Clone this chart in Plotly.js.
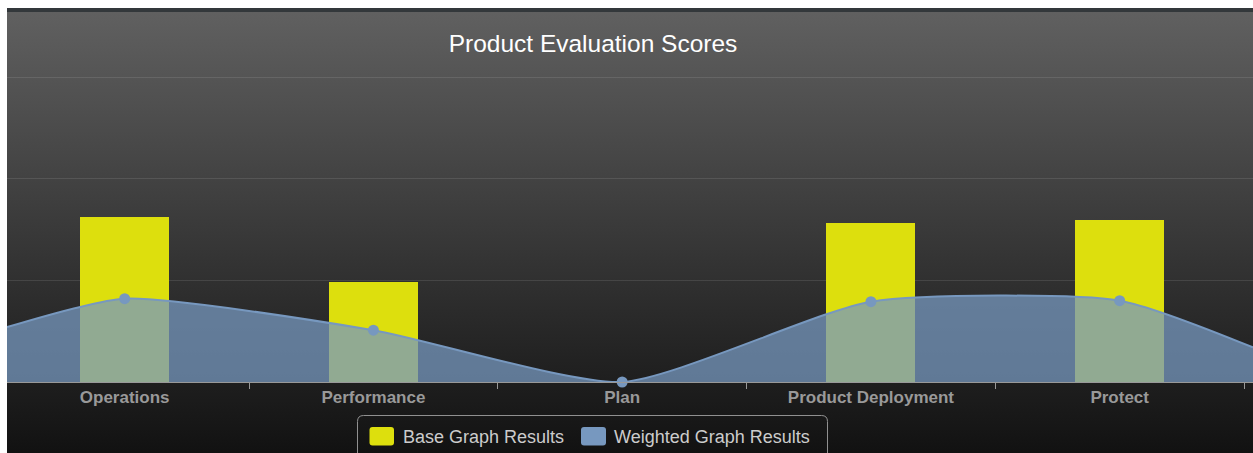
<!DOCTYPE html>
<html>
<head>
<meta charset="utf-8">
<script src="https://cdn.plot.ly/plotly-3.0.1.min.js"></script>
<style>
  html, body { margin: 0; padding: 0; background: #ffffff; width: 1253px; height: 453px; overflow: hidden; }
  #band { position: absolute; left: 7px; top: 8px; width: 1246px; height: 4px; background: #33383b; }
  #chart { position: absolute; left: 7px; top: 12px; width: 1246px; height: 441px;
           background: linear-gradient(to bottom, rgb(96,96,96) 0px, rgb(16,16,16) 450px); }
</style>
</head>
<body>
<div id="band"></div>
<div id="chart"></div>
<script>
// ---- data ----
const categories = ['Operations', 'Performance', 'Plan', 'Product Deployment', 'Protect'];
const baseScores = [16.2, 9.8, 0, 15.6, 15.9];
const weightedScores = [8.2, 5.1, 0, 7.9, 8.0];
// weighted curve values where it leaves the visible plot (left edge, right edge)
const weightedEdgeValues = [5.4, 3.4];
const seriesNames = ['Base Graph Results', 'Weighted Graph Results'];
const chartTitle = 'Product Evaluation Scores';

// ---- layout constants ----
const W = 1246, H = 441;
const M = { l: 0, r: 0, t: 64, b: 71 };
const xRange = [-0.473, 4.536];
const plotH = H - M.t - M.b;
const px = x => (x - M.l) / (W - M.l - M.r);
const py = y => (H - M.b - y) / plotH;

const idx = categories.map((c, i) => i);
const curveX = [xRange[0]].concat(idx, [xRange[1]]);
const curveY = [weightedEdgeValues[0]].concat(weightedScores, [weightedEdgeValues[1]]);

const yellow = '#DDDF0D';
const blue = '#7798BF';

const traces = [
  {
    type: 'bar', x: idx, y: baseScores, name: seriesNames[0],
    width: 0.358, marker: { color: yellow, line: { width: 0 } },
    hoverinfo: 'skip', showlegend: false
  },
  {
    type: 'scatter', mode: 'lines', x: curveX, y: curveY, name: seriesNames[1],
    line: { color: blue, width: 2, shape: 'spline', smoothing: 0.6 },
    fill: 'tozeroy', fillcolor: 'rgba(119,152,191,0.75)',
    hoverinfo: 'skip', showlegend: false
  },
  {
    type: 'scatter', mode: 'markers', x: idx, y: weightedScores, name: seriesNames[1],
    marker: { color: blue, size: 11, opacity: 1, line: { width: 0 } },
    cliponaxis: false, hoverinfo: 'skip', showlegend: false
  }
];

function roundRect(x0, y0, x1, y1, r) {
  const X = v => px(v), Y = v => py(v);
  return `M ${X(x0 + r)} ${Y(y0)} L ${X(x1 - r)} ${Y(y0)} Q ${X(x1)} ${Y(y0)} ${X(x1)} ${Y(y0 + r)} ` +
         `L ${X(x1)} ${Y(y1 - r)} Q ${X(x1)} ${Y(y1)} ${X(x1 - r)} ${Y(y1)} L ${X(x0 + r)} ${Y(y1)} ` +
         `Q ${X(x0)} ${Y(y1)} ${X(x0)} ${Y(y1 - r)} L ${X(x0)} ${Y(y0 + r)} Q ${X(x0)} ${Y(y0)} ${X(x0 + r)} ${Y(y0)} Z`;
}

const legendFont = { family: 'Liberation Sans, Arial, sans-serif', size: 18, color: '#CCCCCC' };

const shapes = [
  { type: 'path', xref: 'paper', yref: 'paper', path: roundRect(350.5, 403.5, 820.5, 470, 6),
    line: { color: '#909090', width: 1 }, fillcolor: 'rgba(0,0,0,0)', layer: 'above' },
  { type: 'path', xref: 'paper', yref: 'paper', path: roundRect(362.5, 415, 387, 433.5, 3),
    line: { width: 0 }, fillcolor: yellow, layer: 'above' },
  { type: 'path', xref: 'paper', yref: 'paper', path: roundRect(574, 415, 599, 433.5, 3),
    line: { width: 0 }, fillcolor: blue, layer: 'above' }
];

const annotations = [
  { xref: 'paper', yref: 'paper', x: px(394), y: py(425), xanchor: 'left', yanchor: 'middle',
    text: seriesNames[0], showarrow: false, font: legendFont },
  { xref: 'paper', yref: 'paper', x: px(605), y: py(425), xanchor: 'left', yanchor: 'middle',
    text: seriesNames[1], showarrow: false, font: legendFont }
];

const layout = {
  width: W, height: H,
  margin: M,
  paper_bgcolor: 'rgba(0,0,0,0)', plot_bgcolor: 'rgba(0,0,0,0)',
  title: {
    text: chartTitle, x: px(586), xanchor: 'center', xref: 'container',
    y: 1 - 31 / H, yref: 'container', yanchor: 'middle',
    font: { family: 'Liberation Sans, Arial, sans-serif', size: 24.5, color: '#FFFFFF' }
  },
  xaxis: {
    range: xRange, tickvals: idx, ticktext: categories,
    ticks: 'outside', ticklen: 0, tickcolor: 'rgba(0,0,0,0)',
    minor: { tickmode: 'array', tickvals: idx.map(i => i + 0.5), ticks: 'outside', ticklen: 6, tickwidth: 1, tickcolor: '#999999', showgrid: false },
    showline: true, linecolor: '#999999', linewidth: 1,
    showgrid: false, zeroline: false, fixedrange: true,
    tickfont: { family: 'Liberation Sans, Arial, sans-serif', size: 17, color: '#999999', weight: 'bold' }
  },
  yaxis: {
    range: [0, 30.1], dtick: 10, tick0: 0,
    showticklabels: false, ticks: '', showline: false, zeroline: false,
    gridcolor: 'rgba(255,255,255,0.1)', gridwidth: 1, fixedrange: true
  },
  bargap: 0, showlegend: false,
  shapes: shapes, annotations: annotations
};

Plotly.newPlot('chart', traces, layout, { displayModeBar: false, staticPlot: true });
</script>
</body>
</html>
